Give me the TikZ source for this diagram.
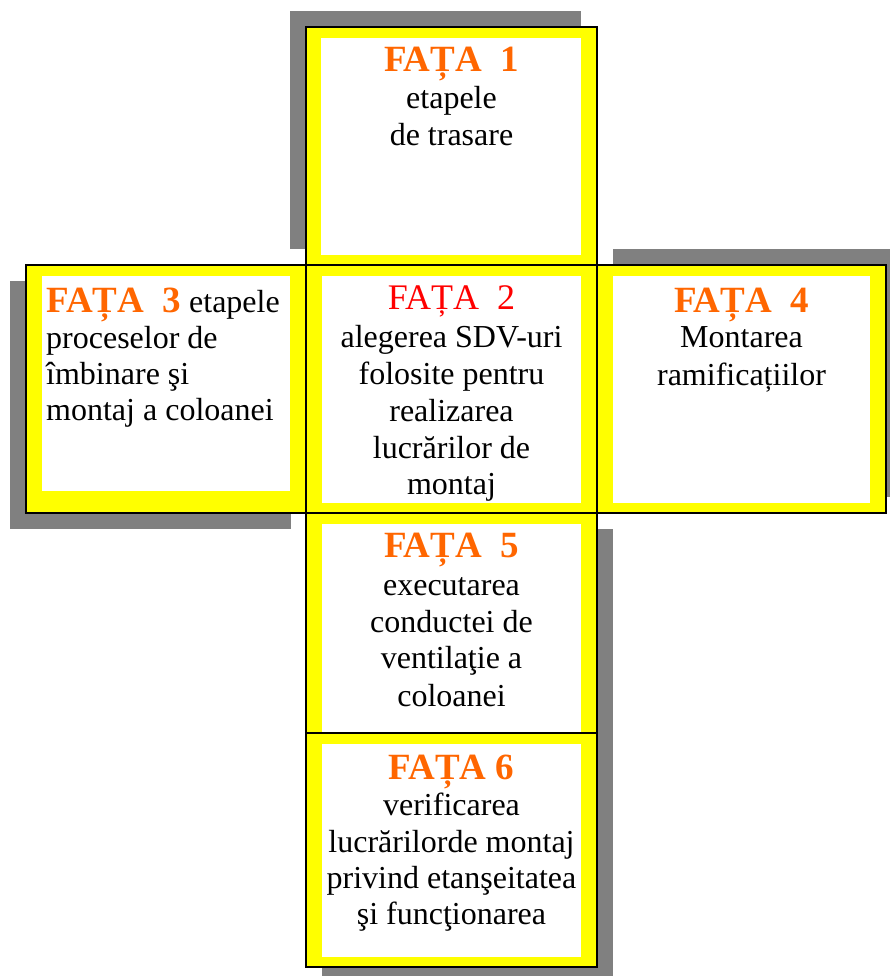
\documentclass[tikz,border=0pt]{standalone}
\usepackage{fontspec}
\setmainfont{Liberation Serif}
\definecolor{faceorange}{HTML}{FF6600}
\definecolor{facered}{HTML}{FF0000}
\definecolor{faceyellow}{HTML}{FFFF00}
\definecolor{shadowgrey}{HTML}{808080}
\newcommand\facetitle[1]{{\fontsize{37}{37}\selectfont\bfseries\color{faceorange}#1}}
\tikzset{
  shadowbox/.style={fill=shadowgrey},
  facebox/.style={fill=faceyellow, draw=black, line width=1.8pt},
  innerbox/.style={fill=white},
  bodytext/.style={font=\fontsize{32}{37}\selectfont, inner sep=0pt, anchor=base},
  lefttext/.style={bodytext, anchor=base west},
}
\begin{document}
\begin{tikzpicture}[x=1pt,y=-1pt]
\clip (0,0) rectangle (890,976);
\fill[white] (0,0) rectangle (890,976);
% shadows
\fill[shadowbox] (290,11) rectangle (581,249);   % face 1
\fill[shadowbox] (10,281) rectangle (291,529);   % face 3
\fill[shadowbox] (613,249) rectangle (902,497);  % face 4
\fill[shadowbox] (322,529) rectangle (613,759);  % face 5
\fill[shadowbox] (322,749) rectangle (613,983);  % face 6
% face 1
\draw[facebox] (306,27) rectangle (597,265);
\fill[innerbox] (321,38) rectangle (581,255);
% face 3
\draw[facebox] (26,265) rectangle (306,513);
\fill[innerbox] (42,276) rectangle (290,491);
% face 4
\draw[facebox] (597,265) rectangle (886,513);
\fill[innerbox] (613,276) rectangle (870,503);
% face 2
\draw[facebox] (306,265) rectangle (597,513);
\fill[innerbox] (322,276) rectangle (581,503);
% face 5
\draw[facebox] (306,513) rectangle (597,745);
\fill[innerbox] (322,524) rectangle (581,735);
% face 6
\draw[facebox] (306,733) rectangle (597,967);
\fill[innerbox] (322,744) rectangle (581,957);
% texts face 1
\node[bodytext] (f1a) at (451.5,72) {\facetitle{FAȚA\ \ 1}};
\node[bodytext] (f1b) at (451.5,109) {etapele};
\node[bodytext] (f1c) at (451.5,146) {de trasare};
% face 2
\node[bodytext] (f2a) at (451.5,309) {{\fontsize{36}{36}\selectfont\color{facered}FAȚA\ \ 2}};
\node[bodytext] (f2b) at (451.5,347) {alegerea SDV-uri};
\node[bodytext] (f2c) at (451.5,384) {folosite pentru};
\node[bodytext] (f2d) at (451.5,421) {realizarea};
\node[bodytext] (f2e) at (451.5,458) {lucrărilor de};
\node[bodytext] (f2f) at (451.5,494) {montaj};
% face 3
\node[lefttext] (f3a) at (46,312) {\facetitle{FAȚA\ \ 3} etapele};
\node[lefttext] (f3b) at (46,348) {proceselor de};
\node[lefttext] (f3c) at (46,384) {îmbinare şi};
\node[lefttext] (f3d) at (46,420) {montaj a coloanei};
% face 4
\node[bodytext] (f4a) at (741.5,312) {\facetitle{FAȚA\ \ 4}};
\node[bodytext] (f4b) at (741.5,347) {Montarea};
\node[bodytext] (f4c) at (741.5,385) {ramificațiilor};
% face 5
\node[bodytext] (f5a) at (451.5,557) {\facetitle{FAȚA\ \ 5}};
\node[bodytext] (f5b) at (451.5,595) {executarea};
\node[bodytext] (f5c) at (451.5,632) {conductei de};
\node[bodytext] (f5d) at (451.5,668) {ventilaţie a};
\node[bodytext] (f5e) at (451.5,706) {coloanei};
% face 6
\node[bodytext] (f6a) at (451.5,779) {\facetitle{FAȚA 6}};
\node[bodytext] (f6b) at (451.5,815) {verificarea};
\node[bodytext] (f6c) at (451.5,852) {lucrărilorde montaj};
\node[bodytext] (f6d) at (451.5,888) {privind etanşeitatea};
\node[bodytext] (f6e) at (451.5,924) {şi funcţionarea};
\end{tikzpicture}
\end{document}
